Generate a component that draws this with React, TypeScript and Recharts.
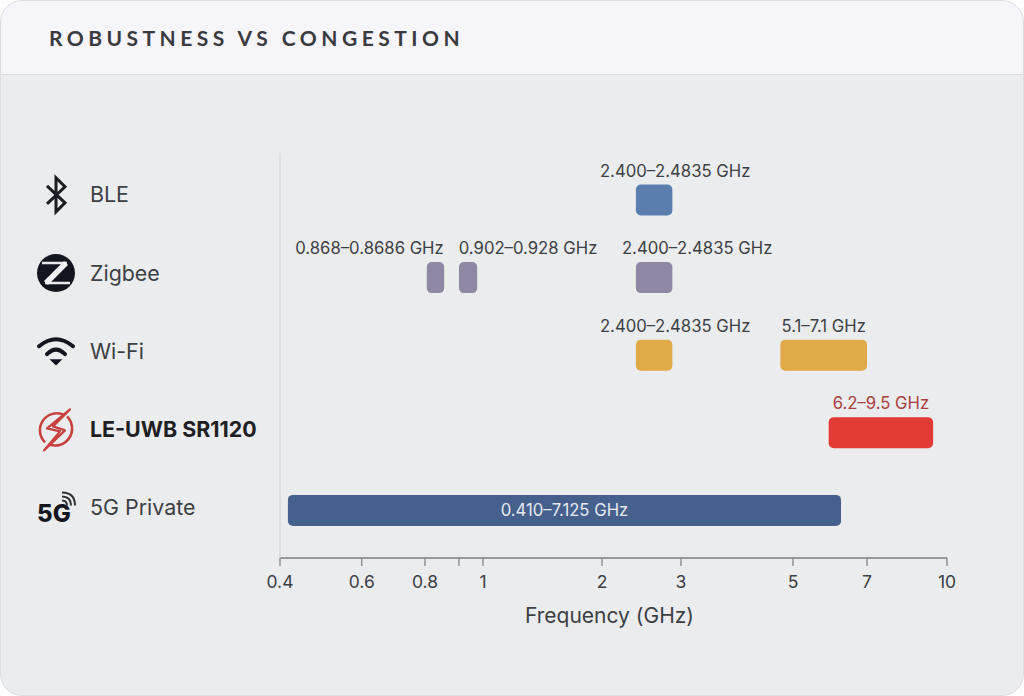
import { BarChart, Bar, XAxis, YAxis } from 'recharts'

const rows = ['BLE', 'Zigbee', 'Wi-Fi', 'LE-UWB SR1120', '5G Private']
const rowColors = ['#5a7fae', '#8e88a4', '#e0aa48', '#e23b35', '#46608e']

// drawn extents in GHz (null = no band in that row)
const bandOne = [[2.38, 2.87], [0.805, 0.855], [2.38, 2.87], [5.88, 9.4], [0.416, 6.22]]
const bandTwo = [null, [0.9, 0.975], [4.72, 7], null, null]
const bandThree = [null, [2.38, 2.87], null, null, null]

const labelsOne = ['2.400–2.4835 GHz', '0.868–0.8686 GHz', '2.400–2.4835 GHz', '6.2–9.5 GHz', '0.410–7.125 GHz']
const labelsTwo = ['', '0.902–0.928 GHz', '5.1–7.1 GHz', '', '']
const labelsThree = ['', '2.400–2.4835 GHz', '', '', '']

const tickValues = [0.4, 0.6, 0.8, 0.9, 1, 2, 3, 5, 7, 10]
// the source axis is not a clean log axis, so each tick has its own spot along the line
const tickFractions = [0, 0.1226, 0.2174, 0.2683, 0.3043, 0.4828, 0.6012, 0.7691, 0.8801, 1]

const data = rows.map((name, i) => ({
  name,
  bandOne: bandOne[i],
  bandTwo: bandTwo[i],
  bandThree: bandThree[i],
}))

const makeScale = (dom: number[] = [0.4, 10], rng: number[] = [0, 1]) => {
  const scale: any = (v: number) => {
    let i = 0
    while (i < tickValues.length - 2 && v > tickValues[i + 1]) i++
    const t = Math.log(v / tickValues[i]) / Math.log(tickValues[i + 1] / tickValues[i])
    const f = tickFractions[i] + t * (tickFractions[i + 1] - tickFractions[i])
    return rng[0] + f * (rng[1] - rng[0])
  }
  scale.domain = (d?: number[]) => (d ? makeScale(d, rng) : dom)
  scale.range = (r?: number[]) => (r ? makeScale(dom, r) : rng)
  scale.copy = () => makeScale(dom, rng)
  scale.ticks = () => tickValues
  return scale
}

const BandShape = (labels: string[], shifts: number[]) => (props: any) => {
  const { x, y, width, height, index } = props
  if (!labels[index]) return <g />
  const inside = index === 4
  return (
    <g>
      <rect x={x} y={y} width={width} height={height} rx={5} fill={rowColors[index]} />
      <text
        x={x + width / 2 + shifts[index]}
        y={inside ? y + height / 2 + 6 : y - 8}
        textAnchor="middle"
        fontSize={16.7}
        fontFamily="Inter"
        fill={inside ? '#e6e9f0' : index === 3 ? '#a8403f' : '#3c3f44'}
      >
        {labels[index]}
      </text>
    </g>
  )
}

const RowIcon = ({ index }: { index: number }) => {
  if (index === 0) {
    return <path d="M-9 -9 L9 8 L0 17 L0 -17 L9 -8 L-9 9" fill="none" stroke="#1b1d22" strokeWidth={3} />
  }
  if (index === 1) {
    return (
      <g>
        <circle r={19} fill="#14161f" />
        <path d="M-14 -10 H11 M-11 10 H14" fill="none" stroke="#e9e9ed" strokeWidth={2.5} />
        <path d="M10 -10 L-10 10" fill="none" stroke="#f2f2f5" strokeWidth={5.5} />
      </g>
    )
  }
  if (index === 2) {
    return (
      <g fill="none" stroke="#14161f" strokeWidth={4} strokeLinecap="round">
        <path d="M-17 -5 Q0 -19 17 -5" />
        <path d="M-9 3 Q0 -6 9 3" />
        <path d="M-4 9 L0 13 L4 9 Z" fill="#14161f" strokeWidth={2} />
      </g>
    )
  }
  if (index === 3) {
    return (
      <g fill="none" stroke="#c9413f" strokeWidth={2.6}>
        <path d="M-11 13 A17 17 0 0 1 7 -15" />
        <path d="M11 -13 A17 17 0 0 1 -7 15" />
        <path d="M14 -20 L-9 -1 L4 2 L-12 21 L9 1 L-3 -3 Z" strokeLinejoin="round" strokeWidth={2.2} />
      </g>
    )
  }
  return (
    <g>
      <text x={-19} y={14} fontSize={24} fontWeight={800} fontFamily="Inter" fill="#14161f">5G</text>
      <g fill="none" stroke="#2e3036" strokeWidth={2}>
        <path d="M6 -7 Q11 -7 11 -2" />
        <path d="M6 -11 Q15 -11 15 -2" />
        <path d="M6 -15 Q19 -15 19 -2" />
      </g>
    </g>
  )
}

const RowTick = ({ y, payload, index }: any) => {
  const bold = payload.value === 'LE-UWB SR1120'
  const mid = y - 5.5 + index * 0.6
  return (
    <g>
      <g transform={`translate(56 ${mid})`}>
        <RowIcon index={index} />
      </g>
      <text
        x={90}
        y={mid + 7.5}
        fontSize={21.4}
        fontFamily="Inter"
        fontWeight={bold ? 700 : 400}
        fill={bold ? '#1e2024' : '#3c3f44'}
      >
        {payload.value}
      </text>
    </g>
  )
}

const App = () => (
  <div style={{ position: 'absolute', left: 0, top: 0, width: 1024, height: 696, background: '#fff' }}>
    <div
      style={{
        position: 'absolute',
        inset: 0,
        boxSizing: 'border-box',
        background: '#ebecee',
        border: '1px solid #dddde1',
        borderRadius: 22,
        overflow: 'hidden',
      }}
    >
      <div
        style={{
          height: 74,
          background: '#f5f5fa',
          borderBottom: '1px solid #dddde1',
          boxSizing: 'border-box',
          paddingLeft: 48,
          lineHeight: '73px',
          fontFamily: 'Lato',
          fontWeight: 700,
          fontSize: 21,
          letterSpacing: 4.47,
          color: '#3a3b40',
        }}
      >
        ROBUSTNESS VS CONGESTION
      </div>
    </div>
    <div style={{ position: 'absolute', left: 0, top: 0 }}>
      <BarChart
        width={1024}
        height={696}
        data={data}
        layout="vertical"
        barSize={31}
        barGap={-31}
        margin={{ top: 153, right: 77, bottom: 0, left: 0 }}
      >
        <XAxis
          type="number"
          dataKey={() => 1}
          scale={makeScale()}
          domain={[0.4, 10]}
          ticks={tickValues}
          interval={0}
          height={138}
          allowDataOverflow
          axisLine={{ stroke: '#7b7d82', strokeWidth: 1.5 }}
          tickLine={{ stroke: '#7b7d82', strokeWidth: 1.2 }}
          tickSize={8}
          tickMargin={10}
          tick={{ fontSize: 17.5, fontFamily: 'Inter', fill: '#3c3f44' }}
          tickFormatter={(v: number) => (v === 0.9 ? '' : String(v))}
          label={{
            value: 'Frequency (GHz)',
            position: 'insideTop',
            offset: 50,
            fontSize: 21,
            fontFamily: 'Inter',
            fill: '#3c3f44',
            dx: -4,
          }}
        />
        <YAxis
          type="category"
          dataKey="name"
          width={280}
          padding={{ top: 8.5, bottom: 8.5 }}
          axisLine={{ stroke: '#d9d9dd', strokeWidth: 1.5 }}
          tickLine={false}
          interval={0}
          tick={RowTick}
        />
        <Bar dataKey="bandOne" isAnimationActive={false} shape={BandShape(labelsOne, [21, -66, 21, 0, 0])} />
        <Bar dataKey="bandTwo" isAnimationActive={false} shape={BandShape(labelsTwo, [0, 60, 0, 0, 0])} />
        <Bar dataKey="bandThree" isAnimationActive={false} shape={BandShape(labelsThree, [0, 43, 0, 0, 0])} />
      </BarChart>
    </div>
  </div>
)

export default App
